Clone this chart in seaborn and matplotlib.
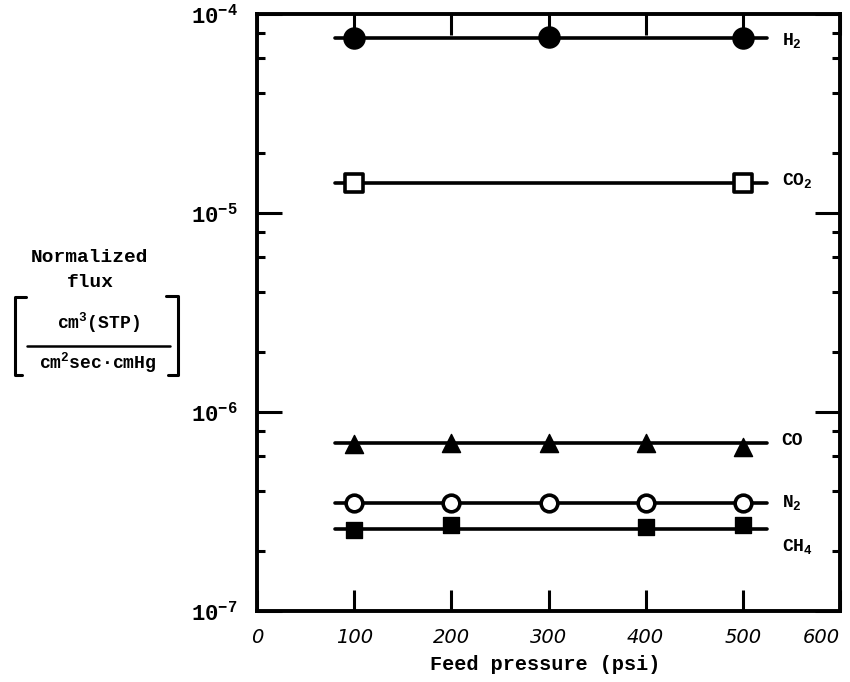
import numpy as np
import pandas as pd
import matplotlib
matplotlib.use('Agg')
import matplotlib.pyplot as plt
from matplotlib.lines import Line2D
from matplotlib.ticker import LogLocator, FuncFormatter, NullFormatter
import seaborn as sns

# Data (feed pressure in psi, normalized flux)
pressure = [100, 200, 300, 400, 500]
h2_p = [100, 300, 500]
h2_flux = [7.6e-5, 7.7e-5, 7.6e-5]
co2_p = [100, 500]
co2_flux = [1.42e-5, 1.41e-5]
co_flux = [6.9e-7, 7.0e-7, 7.0e-7, 7.0e-7, 6.7e-7]
n2_flux = [3.5e-7, 3.5e-7, 3.5e-7, 3.5e-7, 3.5e-7]
ch4_p = [100, 200, 400, 500]
ch4_flux = [2.55e-7, 2.7e-7, 2.65e-7, 2.7e-7]

# horizontal fitted line for each gas
gases = ['H$_2$', 'CO$_2$', 'CO', 'N$_2$', 'CH$_4$']
fit_levels = [7.6e-5, 1.42e-5, 6.95e-7, 3.47e-7, 2.57e-7]
fit_range = [80, 525]
label_y = [7.4e-5, 1.46e-5, 7.2e-7, 3.5e-7, 2.12e-7]

xticks = [0, 100, 200, 300, 400, 500, 600]

sns.set_style('ticks', {'axes.edgecolor': 'black', 'text.color': 'black',
                        'xtick.color': 'black', 'ytick.color': 'black',
                        'axes.labelcolor': 'black'})
plt.rcParams['font.family'] = ['Liberation Mono', 'DejaVu Sans']
plt.rcParams['font.weight'] = 'bold'
plt.rcParams['mathtext.default'] = 'regular'

W, H = 850, 682
fig = plt.figure(figsize=(W / 100, H / 100), dpi=100)
ax = fig.add_axes([257 / W, 1 - 611 / H, 583 / W, 597 / H])

fit_df = pd.DataFrame({
    'p': fit_range * len(gases),
    'flux': [lv for lv in fit_levels for _ in fit_range],
    'gas': [g for g in gases for _ in fit_range],
})
sns.lineplot(data=fit_df, x='p', y='flux', units='gas', estimator=None,
             color='black', lw=2.6, ax=ax, legend=False)

sns.scatterplot(x=h2_p, y=h2_flux, marker='o', s=15 ** 2, color='black',
                edgecolor='black', ax=ax, zorder=3)
sns.scatterplot(x=co2_p, y=co2_flux, marker='s', s=13 ** 2, color='white',
                edgecolor='black', linewidth=2.6, ax=ax, zorder=3)
sns.scatterplot(x=pressure, y=co_flux, marker='^', s=13 ** 2, color='black',
                edgecolor='black', ax=ax, zorder=3)
sns.scatterplot(x=pressure, y=n2_flux, marker='o', s=12 ** 2, color='white',
                edgecolor='black', linewidth=2.6, ax=ax, zorder=3)
sns.scatterplot(x=ch4_p, y=ch4_flux, marker='s', s=12 ** 2, color='black',
                edgecolor='black', ax=ax, zorder=3)

for g, y in zip(gases, label_y):
    ax.text(540, y, g, va='center', ha='left', fontsize=13, fontweight='bold',
            color='black')

ax.set_yscale('log')
ax.set_xlim(0, 600)
ax.set_ylim(1e-7, 1e-4)
ax.set_xlabel('')
ax.set_ylabel('')

ax.set_xticks(xticks)
ax.set_xticklabels([str(t) for t in xticks], fontsize=14, fontstyle='italic',
                   family='DejaVu Sans', fontweight='normal')
ax.get_xticklabels()[-1].set_horizontalalignment('right')
ax.yaxis.set_minor_locator(LogLocator(base=10, subs=[2, 4, 6, 8]))
ax.yaxis.set_minor_formatter(NullFormatter())
ax.yaxis.set_major_formatter(
    FuncFormatter(lambda v, p: '10$^{%d}$' % round(np.log10(v))))

ax.tick_params(axis='x', which='major', direction='in', length=15, width=2.2,
               top=True, pad=12, colors='black')
ax.tick_params(axis='y', which='major', direction='in', length=18, width=2.2,
               right=True, pad=14, labelsize=16, colors='black')
ax.tick_params(axis='y', which='minor', direction='in', length=6, width=2.2,
               right=True, colors='black')
for sp in ax.spines.values():
    sp.set_linewidth(2.8)
    sp.set_color('black')
    sp.set_visible(True)


def fx(px):
    return px / W


def fy(py):
    return 1 - py / H


fig.text(fx(545), fy(664), 'Feed pressure (psi)', ha='center', va='center',
         fontsize=14.5, fontweight='bold')

# y-axis label with bracketed units
fig.text(fx(90), fy(258), 'Normalized', ha='center', va='center', fontsize=14)
fig.text(fx(90), fy(282), 'flux', ha='center', va='center', fontsize=14)
fig.text(fx(98), fy(323), 'cm$^3$(STP)', ha='center', va='center', fontsize=13)
fig.text(fx(98), fy(363), 'cm$^2$sec\u00b7cmHg', ha='center', va='center',
         fontsize=13)
fig.add_artist(Line2D([fx(27), fx(170)], [fy(346), fy(346)], color='black', lw=1.8))
fig.add_artist(Line2D([fx(26), fx(15), fx(15), fx(22)],
                      [fy(297), fy(297), fy(375), fy(375)], color='black', lw=2.2))
fig.add_artist(Line2D([fx(166), fx(178), fx(178), fx(168)],
                      [fy(296), fy(296), fy(375), fy(375)], color='black', lw=2.2))

fig.savefig('out.png', dpi=100, facecolor='white')
